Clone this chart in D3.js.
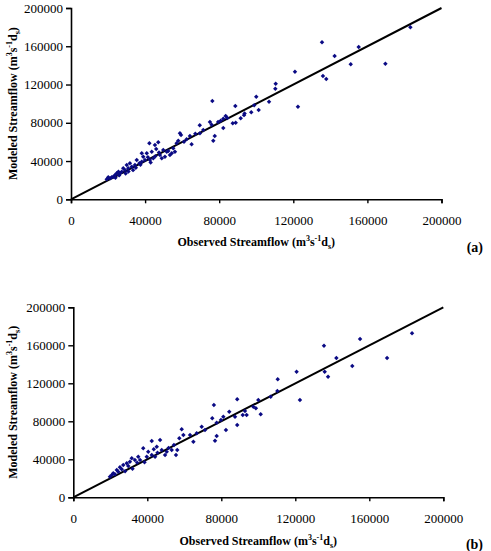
<!DOCTYPE html>
<html>
<head>
<meta charset="utf-8">
<script src="https://cdn.jsdelivr.net/npm/d3@7"></script>
<style>
  body { margin: 0; background: #fff; }
  svg { display: block; font-family: "Liberation Serif", "Times New Roman", serif; }
</style>
</head>
<body>
<svg id="chart" width="491" height="551"></svg>
<script>
// panel (a) — observed vs modeled, thousands of m3/s
const obsA = [183.2,135.5,155.3,142.3,151.0,169.7,120.9,136.0,137.8,110.5,110.3,100.0,106.9,98.9,101.3,122.5,97.3,93.7,93.4,91.6,
  76.3,88.7,83.5,84.4,82.2,80.8,79.4,87.3,88.9,82.2,75.0,75.9,77.6,76.8,69.5,71.4,69.6,67.1,64.2,65.1,58.8,59.4,62.4,61.0,57.9,57.0,
  55.2,56.1,54.4,47.1,45.3,42.3,49.8,51.7,53.4,48.0,49.0,50.7,43.6,44.4,42.6,38.2,39.0,40.9,39.9,35.5,36.9,34.5,38.2,31.8,30.1,32.8,
  30.9,28.2,27.4,29.1,26.5,24.7,23.8,25.6,22.8,21.1,20.1,22.0,19.3,
  33.5,31.0,35.0,45.5,47.5,52.5,41.5,37.5,29.5,26.0,24.0,43.0,46.0];
const modA = [179.8,164.1,159.2,149.8,141.1,141.8,133.4,128.9,125.8,120.9,115.6,107.3,102.0,98.3,93.4,96.8,90.9,89.6,88.0,84.7,
  102.8,97.5,87.1,85.0,84.3,82.2,80.8,79.5,80.1,74.5,80.8,78.0,66.2,61.3,77.4,72.5,69.0,68.6,66.2,57.5,69.0,67.2,62.7,60.2,61.3,58.5,
  53.3,49.8,48.1,59.6,56.8,58.5,51.5,49.8,46.3,46.3,42.9,44.5,49.8,42.9,41.1,48.1,44.5,48.1,41.1,41.1,37.6,35.9,39.3,37.6,35.9,34.1,
  32.4,32.4,28.9,30.6,27.2,27.2,25.4,28.9,23.6,22.0,23.0,23.0,20.9,
  30.5,29.0,33.0,45.0,49.0,50.5,44.0,36.0,27.0,25.0,22.5,38.5,52.5];

// panel (b)
const obsB = [183.1,155.0,135.5,169.6,142.2,150.8,120.7,135.9,137.7,110.5,110.3,106.7,122.5,100.0,97.3,98.7,101.3,91.6,93.7,92.8,
  88.6,76.0,84.3,81.1,79.8,77.5,75.1,87.4,88.6,82.5,77.5,76.6,69.4,71.2,66.7,64.9,63.1,58.6,59.5,57.3,54.4,56.2,53.2,55.5,46.9,42.4,
  37.8,45.1,47.8,50.5,49.6,40.5,42.4,44.2,39.7,35.1,36.1,33.3,31.6,30.6,28.9,29.7,27.0,25.2,26.2,23.5,24.3,21.6,20.8,19.8,22.5,
  32.0,34.5,45.5,51.5,43.5,38.5,28.0];
const modB = [172.6,166.6,159.6,146.6,146.6,138.2,132.2,132.2,127.0,124.2,111.9,105.9,102.4,102.4,95.4,93.7,87.4,86.6,86.6,90.8,
  103.2,97.1,90.1,84.8,81.4,78.5,83.2,84.8,76.1,70.8,64.5,59.6,74.3,70.8,67.4,58.5,65.6,71.6,65.6,62.1,55.1,49.8,49.8,44.5,60.3,59.3,
  51.6,53.3,49.8,48.0,44.5,48.0,44.5,42.7,42.7,42.7,39.3,39.3,41.1,37.5,35.8,32.9,34.0,31.6,29.5,28.7,26.9,25.3,23.5,21.7,24.2,
  30.0,36.5,47.0,52.0,50.5,37.0,27.5];

const ticks = [0, 40000, 80000, 120000, 160000, 200000];
const panels = [
  { obs: obsA, mod: modA, tag: "(a)", x0: 71, x1: 441.5, y0: 199.3, y1: 8, xLab: 246, tagY: 252 },
  { obs: obsB, mod: modB, tag: "(b)", x0: 73.3, x1: 443.3, y0: 497.3, y1: 307.3, xLab: 545, tagY: 549 }
];

const svg = d3.select("#chart");

function unitLabel(t, pre) {
  t.append("tspan").text(pre + " (m");
  t.append("tspan").attr("font-size", "8px").attr("dy", "-5").text("3");
  t.append("tspan").attr("dy", "5").text("s");
  t.append("tspan").attr("font-size", "8px").attr("dy", "-5").text("-1");
  t.append("tspan").attr("dy", "5").text("d");
  t.append("tspan").attr("font-size", "8px").attr("dy", "3").text("s");
  t.append("tspan").attr("dy", "-3").text(")");
}

panels.forEach(p => {
  const x = d3.scaleLinear().domain([0, 200000]).range([p.x0, p.x1]);
  const y = d3.scaleLinear().domain([0, 200000]).range([p.y0, p.y1]);
  const g = svg.append("g");

  const ax = g.append("g").attr("transform", `translate(0,${p.y0})`)
    .call(d3.axisBottom(x).tickValues(ticks).tickFormat(d3.format("d")).tickSize(4).tickPadding(12));
  const ay = g.append("g").attr("transform", `translate(${p.x0},0)`)
    .call(d3.axisLeft(y).tickValues(ticks).tickFormat(d3.format("d")).tickSize(5).tickPadding(3));
  [ax, ay].forEach(a => {
    a.select(".domain").attr("stroke", "#000").attr("stroke-width", 1.6);
    a.selectAll(".tick line").attr("stroke", "#000").attr("stroke-width", 1.4);
    a.selectAll("text").attr("font-size", "13px").attr("fill", "#000")
      .attr("font-family", "Liberation Serif, serif");
  });

  // 1:1 line
  g.append("line")
    .attr("x1", x(0)).attr("y1", y(0)).attr("x2", x(200000)).attr("y2", y(200000))
    .attr("stroke", "#000").attr("stroke-width", 2);

  const pts = p.obs.map((o, i) => [o * 1000, p.mod[i] * 1000]);
  g.selectAll("path.pt").data(pts).join("path")
    .attr("class", "pt")
    .attr("d", d3.symbol(d3.symbolSquare, 10))
    .attr("transform", d => `translate(${x(d[0])},${y(d[1])}) rotate(45)`)
    .attr("fill", "#0a0a84");

  const xt = g.append("text")
    .attr("x", (p.x0 + p.x1) / 2).attr("y", p.xLab)
    .attr("text-anchor", "middle").attr("font-weight", "bold").attr("font-size", "12px");
  unitLabel(xt, "Observed Streamflow");

  const yt = g.append("text")
    .attr("transform", `translate(17,${(p.y0 + p.y1) / 2}) rotate(-90)`)
    .attr("text-anchor", "middle").attr("font-weight", "bold").attr("font-size", "12px");
  unitLabel(yt, "Modeled Streamflow");

  g.append("text").attr("x", 483).attr("y", p.tagY).attr("text-anchor", "end")
    .attr("font-weight", "bold").attr("font-size", "14px").text(p.tag);
});
</script>
</body>
</html>
